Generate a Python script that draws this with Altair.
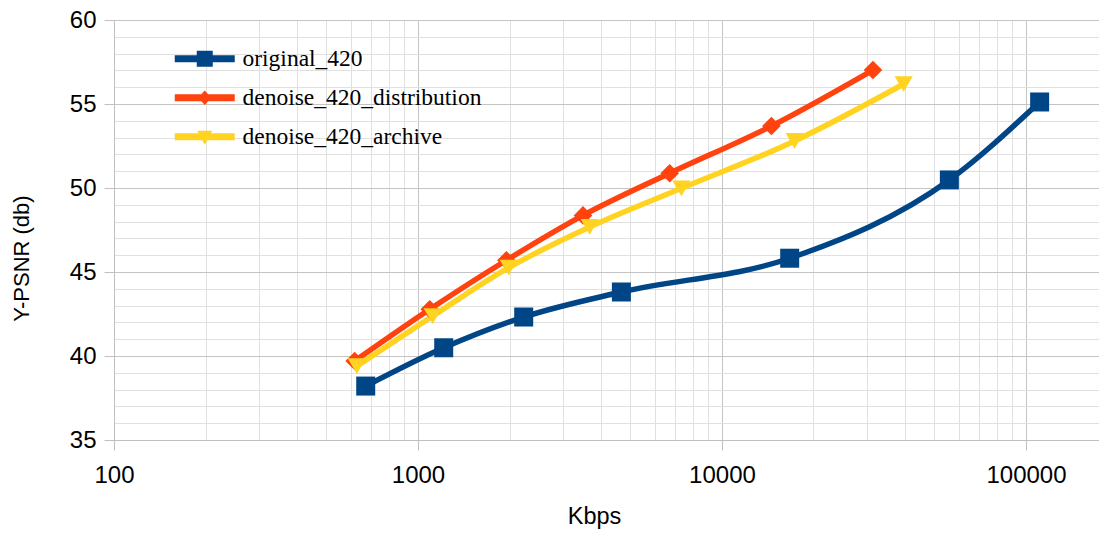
import altair as alt
import pandas as pd

series_names = ["original_420", "denoise_420_distribution", "denoise_420_archive"]
colors = ["#004586", "#ff420e", "#ffd320"]

orig_kbps = [673, 1215, 2227, 4667, 16700, 55970, 110900]
orig_psnr = [38.21, 40.49, 42.32, 43.81, 45.82, 50.48, 55.12]

dist_kbps = [619, 1093, 1954, 3490, 6730, 14540, 31380]
dist_psnr = [39.70, 42.78, 45.70, 48.37, 50.88, 53.69, 57.02]

arch_kbps = [629, 1118, 1988, 3671, 7354, 17340, 39600]
arch_psnr = [39.40, 42.38, 45.26, 47.68, 49.98, 52.80, 56.19]

x_ticks = [100, 200, 300, 400, 500, 600, 700, 800, 900,
           1000, 2000, 3000, 4000, 5000, 6000, 7000, 8000, 9000,
           10000, 20000, 30000, 40000, 50000, 60000, 70000, 80000, 90000,
           100000]
x_major = [100, 1000, 10000, 100000]
y_ticks = list(range(35, 61))

rows = []
for name, xs, ys in [(series_names[0], orig_kbps, orig_psnr),
                     (series_names[1], dist_kbps, dist_psnr),
                     (series_names[2], arch_kbps, arch_psnr)]:
    for k, p in zip(xs, ys):
        rows.append({"series": name, "kbps": k, "psnr": p})
df = pd.DataFrame(rows)

major_test_x = "indexof([100,1000,10000,100000], datum.value) >= 0"
major_test_y = "datum.value % 5 == 0"

x_enc = alt.X(
    "kbps:Q",
    scale=alt.Scale(type="log", domain=[100, 173860], nice=False),
    axis=alt.Axis(
        values=x_ticks,
        title="Kbps",
        labelExpr=f"{major_test_x} ? format(datum.value, 'd') : ''",
        labelOverlap=False,
        labelFlush=False,
        labelFont="Liberation Sans",
        labelFontSize=24,
        labelColor="#000000",
        labelPadding=13,
        tickSize=10,
        tickColor={"condition": {"test": major_test_x, "value": "#c0c0c0"}, "value": "transparent"},
        gridColor={"condition": {"test": major_test_x, "value": "#c4c4c4"}, "value": "#e0e0e0"},
        domainColor="#c0c0c0",
        titleFont="Liberation Sans",
        titleFontSize=23.5,
        titleFontWeight="normal",
        titleColor="#000000",
        titleX=480,
        titleY=83,
        titleBaseline="alphabetic",
        titleAlign="center",
    ),
)
y_enc = alt.Y(
    "psnr:Q",
    scale=alt.Scale(domain=[35, 60], nice=False, zero=False),
    axis=alt.Axis(
        values=y_ticks,
        title="Y-PSNR (db)",
        labelExpr=f"{major_test_y} ? datum.label : ''",
        labelOverlap=False,
        labelFlush=False,
        labelFont="Liberation Sans",
        labelFontSize=24,
        labelColor="#000000",
        labelPadding=8,
        tickSize=10,
        tickColor={"condition": {"test": major_test_y, "value": "#c0c0c0"}, "value": "transparent"},
        gridColor={"condition": {"test": major_test_y, "value": "#c4c4c4"}, "value": "#e0e0e0"},
        domainColor="#c0c0c0",
        titleFont="Liberation Sans",
        titleFontSize=22,
        titleFontWeight="normal",
        titleColor="#000000",
        titleAngle=270,
        titleX=-93,
        titleY=238,
        titleBaseline="middle",
        titleAlign="center",
    ),
)

color_scale = alt.Scale(domain=series_names, range=colors)

lines = alt.Chart(df).mark_line(interpolate="monotone", strokeWidth=5.5).encode(
    x=x_enc, y=y_enc,
    color=alt.Color("series:N", scale=color_scale, legend=None),
    detail="series:N",
)

points = alt.Chart(df).mark_point(filled=True, opacity=1).encode(
    x=x_enc, y=y_enc,
    color=alt.Color("series:N", scale=color_scale, legend=None),
    shape=alt.Shape("series:N", scale=alt.Scale(domain=series_names,
                                                range=["square", "diamond", "triangle-down"]), legend=None),
    size=alt.Size("series:N", scale=alt.Scale(domain=series_names, range=[361, 330, 400]), legend=None),
)

line_path = "M-3,-0.35L3,-0.35L3,0.35L-3,0.35Z"
legend_paths = [
    line_path + "M-0.8,-0.8L0.8,-0.8L0.8,0.8L-0.8,0.8Z",
    line_path + "M0,-0.72L0.65,0L0,0.72L-0.65,0Z",
    line_path + "M-0.75,-0.6L0.75,-0.6L0,0.8Z",
]

legend_kw = dict(
    title=None,
    orient="none",
    legendX=79,
    legendY=27,
    padding=0,
    symbolSize=400,
    symbolStrokeWidth=0,
    symbolOpacity=1,
    labelFont="Liberation Serif",
    labelFontSize=23.5,
    labelColor="#000000",
    labelOffset=26,
    labelLimit=500,
    rowPadding=14,
)

legend_layer = alt.Chart(df).transform_filter("datum.kbps < 0").mark_point(filled=True).encode(
    x=x_enc, y=y_enc,
    color=alt.Color("series:N", scale=color_scale, legend=alt.Legend(**legend_kw)),
    shape=alt.Shape("series:N", scale=alt.Scale(domain=series_names, range=legend_paths),
                    legend=alt.Legend(**legend_kw)),
)

chart = alt.layer(lines, points, legend_layer).resolve_scale(
    color="independent", shape="independent", size="independent"
).properties(
    width=985,
    height=420,
    autosize=alt.AutoSizeParams(type="none"),
    padding={"left": 106, "top": 12, "right": 0, "bottom": 89},
    background="white",
).configure_view(stroke=None)

chart.save("out.html", embed_options={"renderer": "svg", "actions": False})
